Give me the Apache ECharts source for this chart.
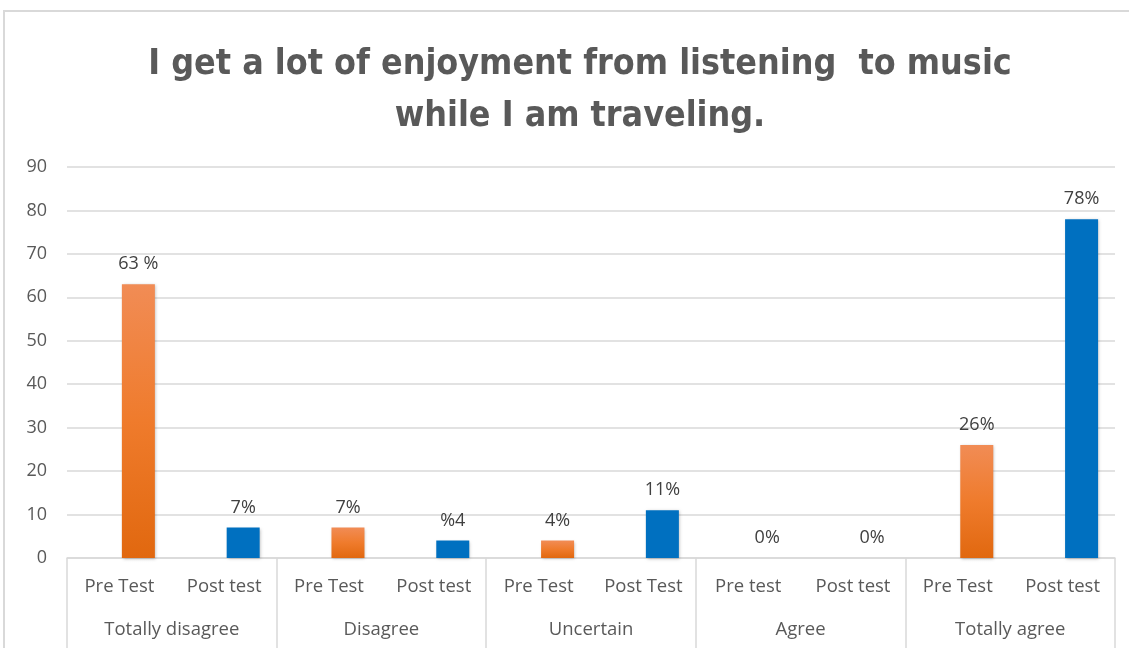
<!DOCTYPE html>
<html>
<head>
<meta charset="utf-8">
<script src="https://cdn.jsdelivr.net/npm/echarts@6/dist/echarts.min.js"></script>
<style>
  html, body { margin: 0; padding: 0; background: #fff; }
  #chart { width: 1129px; height: 648px; }
</style>
</head>
<body>
<div id="chart"></div>
<script>
// Survey responses, before and after the intervention (percent)
const titleText = 'I get a lot of enjoyment from listening  to music\nwhile I am traveling.';
const groups = ['Totally disagree', 'Disagree', 'Uncertain', 'Agree', 'Totally agree'];
const slotLabels = ['Pre Test', 'Post test', 'Pre Test', 'Post test', 'Pre Test', 'Post Test', 'Pre test', 'Post test', 'Pre Test', 'Post test'];
const preValues = [63, '-', 7, '-', 4, '-', 0, '-', 26, '-'];
const postValues = ['-', 7, '-', 4, '-', 11, '-', 0, '-', 78];
const valueLabels = ['63 %', '7%', '7%', '%4', '4%', '11%', '0%', '0%', '26%', '78%'];
const yTicks = { min: 0, max: 90, step: 10 };

const labelFont = '"Open Sans", "Noto Sans", sans-serif';
const grey = '#595959';
const lineGrey = '#d9d9d9';

const chart = echarts.init(document.getElementById('chart'), null, { renderer: 'canvas' });

const barLabel = {
  show: true,
  position: 'top',
  distance: 11,
  color: '#404040',
  fontSize: 18,
  fontFamily: labelFont,
  formatter: p => valueLabels[p.dataIndex]
};
const shadow = { shadowBlur: 3, shadowColor: 'rgba(0,0,0,0.25)', shadowOffsetX: 1, shadowOffsetY: 1 };

chart.setOption({
  animation: false,
  backgroundColor: '#fff',
  title: {
    text: titleText,
    left: 575,
    textAlign: 'center',
    top: 34,
    textStyle: {
      fontFamily: '"Liberation Sans Narrow", "DejaVu Sans Condensed", sans-serif',
      fontWeight: 'bold',
      fontSize: 35.5,
      lineHeight: 52,
      color: grey
    }
  },
  graphic: [{
    type: 'polyline',
    shape: { points: [[4, 648], [4, 11], [1129, 11]] },
    style: { stroke: lineGrey, lineWidth: 2, fill: null },
    silent: true
  }],
  grid: { left: 67, right: 14, top: 167, bottom: 90 },
  xAxis: [{
    type: 'category',
    data: slotLabels,
    position: 'bottom',
    axisLine: { show: true, lineStyle: { color: lineGrey, width: 1.5 } },
    axisTick: { show: false },
    axisLabel: { margin: 19, fontSize: 18.5, color: grey, fontFamily: labelFont, interval: 0 }
  }, {
    type: 'category',
    data: groups,
    position: 'bottom',
    axisLine: { show: false },
    axisTick: { show: true, length: 92, lineStyle: { color: lineGrey, width: 1.5 } },
    axisLabel: { margin: 62, fontSize: 18.5, color: grey, fontFamily: labelFont, interval: 0 }
  }],
  yAxis: {
    type: 'value',
    min: yTicks.min,
    max: yTicks.max,
    interval: yTicks.step,
    axisLine: { show: false },
    axisTick: { show: false },
    axisLabel: { margin: 20, fontSize: 18, color: grey, fontFamily: labelFont },
    splitLine: { lineStyle: { color: lineGrey, width: 1.5 } }
  },
  series: [{
    // empty neighbour bar: reserves the left slot so the data bars sit right of centre
    name: 'spacer',
    type: 'bar',
    xAxisIndex: 0,
    data: slotLabels.map(() => '-'),
    barWidth: 33,
    barGap: '15%',
    silent: true
  }, {
    name: 'Pre Test',
    type: 'bar',
    stack: 'tests',
    xAxisIndex: 0,
    data: preValues,
    barWidth: 33,
    barGap: '15%',
    itemStyle: Object.assign({
      color: new echarts.graphic.LinearGradient(0, 0, 0, 1, [
        { offset: 0, color: '#F18C55' },
        { offset: 0.5, color: '#EF7B2C' },
        { offset: 1, color: '#E1680F' }
      ])
    }, shadow),
    label: barLabel
  }, {
    name: 'Post test',
    type: 'bar',
    stack: 'tests',
    xAxisIndex: 0,
    data: postValues,
    barWidth: 33,
    barGap: '15%',
    itemStyle: Object.assign({ color: '#0070C0' }, shadow),
    label: barLabel
  }]
});
</script>
</body>
</html>
